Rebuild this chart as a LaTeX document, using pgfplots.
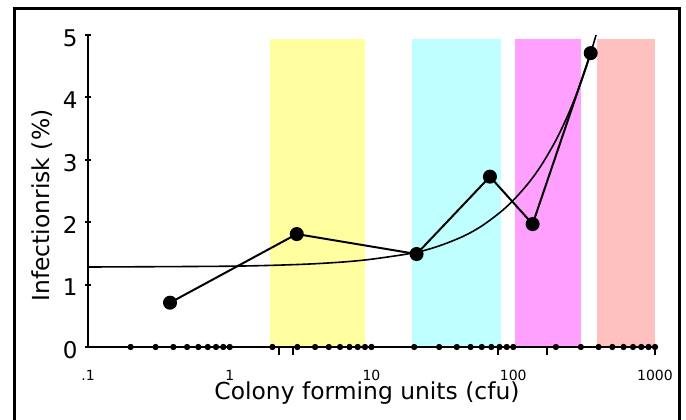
\documentclass[border=0pt]{standalone}
\usepackage{fontspec}
\setmainfont{DejaVu Sans}
\usepackage{pgfplots}
\pgfplotsset{compat=1.18}
\definecolor{bandY}{RGB}{255,255,160}
\definecolor{bandC}{RGB}{192,255,255}
\definecolor{bandM}{RGB}{255,160,255}
\definecolor{bandP}{RGB}{255,192,192}
\begin{document}
\begin{tikzpicture}
\useasboundingbox (-44pt,-36pt) rectangle (299pt,173.5pt);
\begin{axis}[
  at={(0pt,0pt)}, anchor=south west,
  scale only axis, width=283.5pt, height=156pt,
  xmode=log, xmin=0.1, xmax=1000, ymin=0, ymax=5,
  clip=false, axis on top,
  axis x line=bottom, axis y line=left,
  axis line style={-, line width=1pt},
  /pgf/number format/assume math mode=true,
  xtick={0.1,1,10,100,1000}, xticklabels={.1,1,10,100,1000},
  minor xtick={}, 
  xtick style={draw=none},
  xticklabel style={font=\fontsize{7}{8}\selectfont, anchor=north, inner sep=0pt, yshift=-10pt},
  extra x ticks={2.22,2.79,78,173,1000},
  extra x tick labels={},
  extra x tick style={xtick style={draw=black, line width=1pt}, major tick length=4pt, tick align=outside},
  ytick={0,1,2,3,4,5},
  ytick style={line width=1pt, draw=black},
  major tick length=3pt,
  ytick align=center,
  yticklabel style={font=\fontsize{11.5}{13}\selectfont, anchor=east, inner sep=0pt, xshift=-3.5pt, yshift=-1.5pt},
  xlabel={Colony forming units (cfu)},
  ylabel={Infectionrisk (\%)},
  every axis x label/.style={at={(axis description cs:0.492,-0.149)}, anchor=center, font=\fontsize{11.7}{13}\selectfont},
  every axis y label/.style={at={(axis description cs:-0.080,0.4535)}, anchor=center, rotate=90, font=\fontsize{11.7}{13}\selectfont},
]
% coloured bands
\addplot[draw=none, fill=bandY, forget plot] coordinates {(1.92,4.94) (9.0,4.94)} \closedcycle;
\addplot[draw=none, fill=bandC, forget plot] coordinates {(19.3,4.94) (82,4.94)} \closedcycle;
\addplot[draw=none, fill=bandM, forget plot] coordinates {(103,4.94) (301,4.94)} \closedcycle;
\addplot[draw=none, fill=bandP, forget plot] coordinates {(390,4.94) (1000,4.94)} \closedcycle;
% fitted curve
\addplot[black, line width=0.8pt, smooth, no marks] coordinates {
 (0.1,1.282) (1,1.295) (3,1.322) (6,1.359) (10,1.407) (20,1.51)
 (30,1.62) (45,1.78) (60,1.94) (80,2.15) (100,2.35) (130,2.645)
 (160,2.934) (200,3.313) (240,3.688) (280,4.058) (320,4.423) (360,4.785) (384,5.0)};
% observed risk
\addplot[black, line width=1pt, mark=*, mark size=3pt, mark options={solid, fill=black}] coordinates {
 (0.379,0.71) (2.97,1.81) (20.8,1.49) (68.5,2.73) (137,1.97) (352,4.71)};
% individual counts
\addplot[only marks, black, mark=*, mark size=1.35pt] coordinates {
 (0.2,0) (0.3,0) (0.4,0) (0.5,0) (0.6,0) (0.7,0) (0.8,0) (0.9,0) (1,0)
 (2,0) (3,0) (4,0) (5,0) (6,0) (7,0) (8,0) (9,0) (10,0)
 (20,0) (30,0) (40,0) (50,0) (60,0) (70,0) (80,0) (90,0) (100,0)
 (200,0) (300,0) (400,0) (500,0) (600,0) (700,0) (800,0) (900,0) (1000,0)};
\end{axis}
\draw[line width=1.5pt, black] (-36.5pt,-45pt) -- (-36.5pt,169.25pt) -- (295.5pt,169.25pt) -- (295.5pt,-45pt);
\end{tikzpicture}
\end{document}
